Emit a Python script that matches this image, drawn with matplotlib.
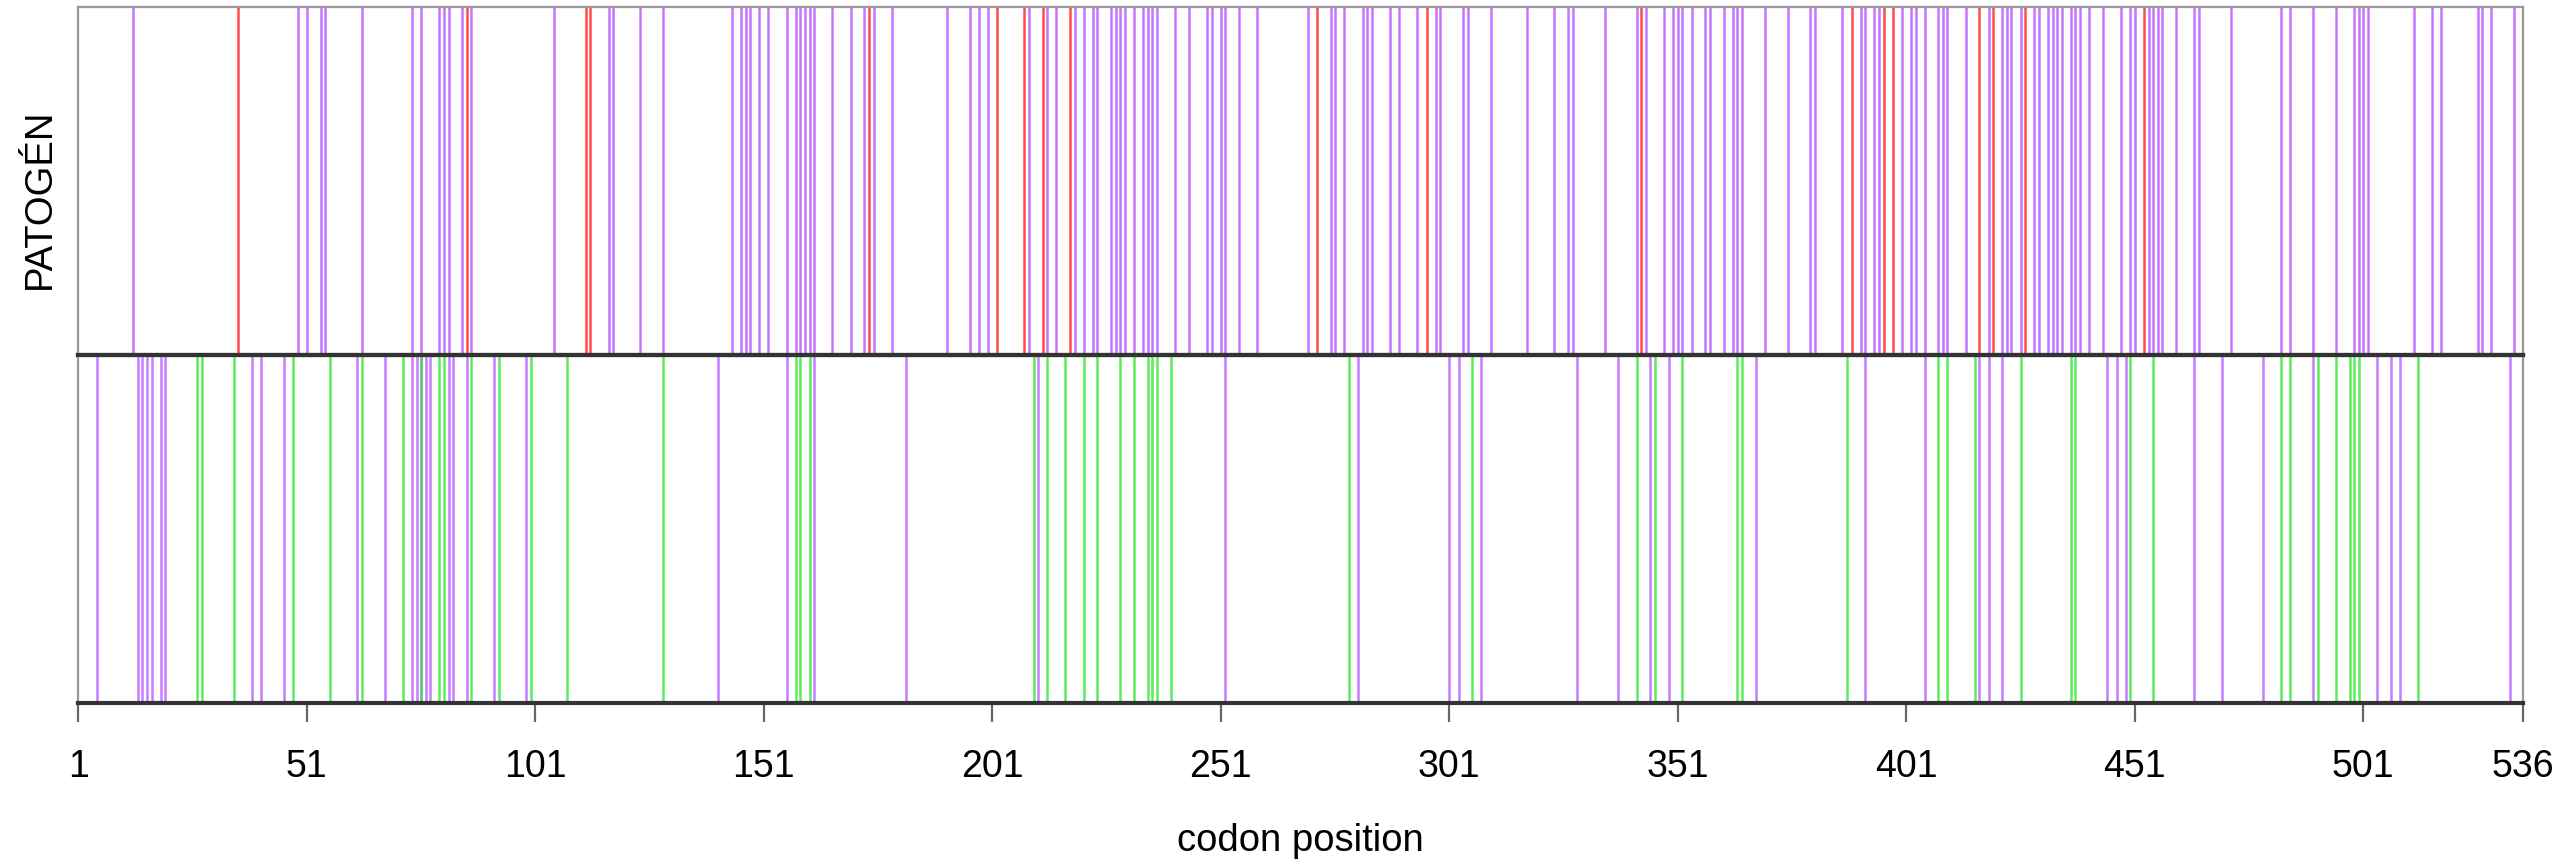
import matplotlib
matplotlib.use('Agg')
import matplotlib.pyplot as plt

plt.rcParams['font.family'] = ['Liberation Sans', 'DejaVu Sans']

# codon positions
top_purple = [13, 49, 51, 54, 55, 63, 74, 76, 80, 81, 82, 85, 87, 105, 117, 118, 124, 129,
              144, 146, 147, 148, 150, 152, 156, 158, 159, 160, 161, 162, 166, 170, 173, 175,
              179, 191, 196, 198, 200, 209, 213, 215, 219, 221, 223, 224, 227, 228, 229, 230,
              232, 234, 235, 236, 237, 241, 244, 248, 249, 251, 252, 255, 259, 270, 275, 276,
              278, 282, 283, 284, 288, 290, 294, 298, 299, 304, 305, 310, 318, 324, 327, 328,
              335, 342, 344, 348, 350, 351, 352, 354, 357, 358, 361, 363, 364, 365, 370, 375,
              380, 381, 387, 391, 392, 394, 395, 400, 402, 403, 405, 408, 409, 410, 414, 419,
              422, 423, 424, 426, 429, 430, 432, 433, 434, 435, 437, 438, 439, 441, 444, 448,
              450, 451, 454, 455, 456, 457, 460, 464, 465, 472, 483, 485, 490, 495, 499, 500,
              501, 502, 512, 516, 518, 526, 527, 529, 534]
top_red = [36, 86, 112, 113, 174, 202, 208, 212, 218, 272, 296, 343, 389, 396, 398, 417,
           420, 427, 453]

bottom_purple = [5, 14, 15, 16, 17, 19, 20, 39, 41, 46, 62, 68, 74, 75, 76, 77, 78, 82, 83,
                 86, 92, 99, 141, 156, 162, 182, 211, 252, 281, 301, 303, 308, 329, 338, 345,
                 349, 368, 392, 405, 417, 419, 422, 445, 447, 449, 464, 470, 479, 490, 504,
                 507, 509, 533]
bottom_green = [27, 28, 35, 48, 56, 63, 72, 76, 80, 81, 87, 93, 100, 108, 129, 158, 159, 161,
                210, 213, 217, 221, 224, 229, 232, 235, 236, 237, 240, 279, 306, 342, 346,
                352, 364, 365, 388, 408, 410, 416, 426, 437, 438, 450, 455, 483, 485, 491,
                495, 498, 499, 500, 513]

xticks = [1, 51, 101, 151, 201, 251, 301, 351, 401, 451, 501, 536]
seq_len = 536

purple = '#BA5CFF'
red = '#FF2A2A'
green = '#33E833'
frame_grey = '#999999'
axis_dark = '#333333'

fig = plt.figure(figsize=(25.6, 8.65), dpi=100)
left = 78.4 / 2560
width = (2523.3 - 78.4) / 2560
ax_top = fig.add_axes([left, 1 - 355 / 865, width, (355 - 7) / 865])
ax_bot = fig.add_axes([left, 1 - 703 / 865, width, (703 - 355) / 865])

ax_top.vlines(top_purple, 0, 1, colors=purple, lw=1.8, alpha=0.85)
ax_top.vlines(top_red, 0, 1, colors=red, lw=1.8, alpha=0.85)
ax_bot.vlines(bottom_purple, 0, 1, colors=purple, lw=1.8, alpha=0.8)
ax_bot.vlines(bottom_green, 0, 1, colors=green, lw=1.8, alpha=0.8)

for ax in (ax_top, ax_bot):
    ax.set_xlim(1, seq_len)
    ax.set_ylim(0, 1)
    ax.set_yticks([])
    ax.patch.set_alpha(0)
    for side in ('left', 'right', 'top'):
        ax.spines[side].set_color(frame_grey)
        ax.spines[side].set_linewidth(1.6)
    ax.spines['bottom'].set_color(axis_dark)
    ax.spines['bottom'].set_linewidth(3.0)
    ax.spines['bottom'].set_zorder(5)

# the line between the panels is dark like the bottom axis
ax_bot.spines['top'].set_color(axis_dark)
ax_bot.spines['top'].set_linewidth(3.0)
ax_bot.spines['top'].set_zorder(5)
ax_top.set_xticks([])

ax_bot.set_xticks(xticks)
ax_bot.set_xticklabels([str(t) for t in xticks])
ax_bot.tick_params(axis='x', direction='out', length=14, width=1.6, color='#666666',
                   pad=19, labelsize=27)

fig.text(40 / 2560, 1 - 199 / 865, 'PATOGÉN', rotation=90, ha='center', va='center',
         fontsize=27.5)
fig.text((78.4 + 2523.3) / 2 / 2560, 1 - 841 / 865, 'codon position', ha='center',
         va='center', fontsize=27.5)

fig.savefig('out.png', dpi=100, facecolor='white')
